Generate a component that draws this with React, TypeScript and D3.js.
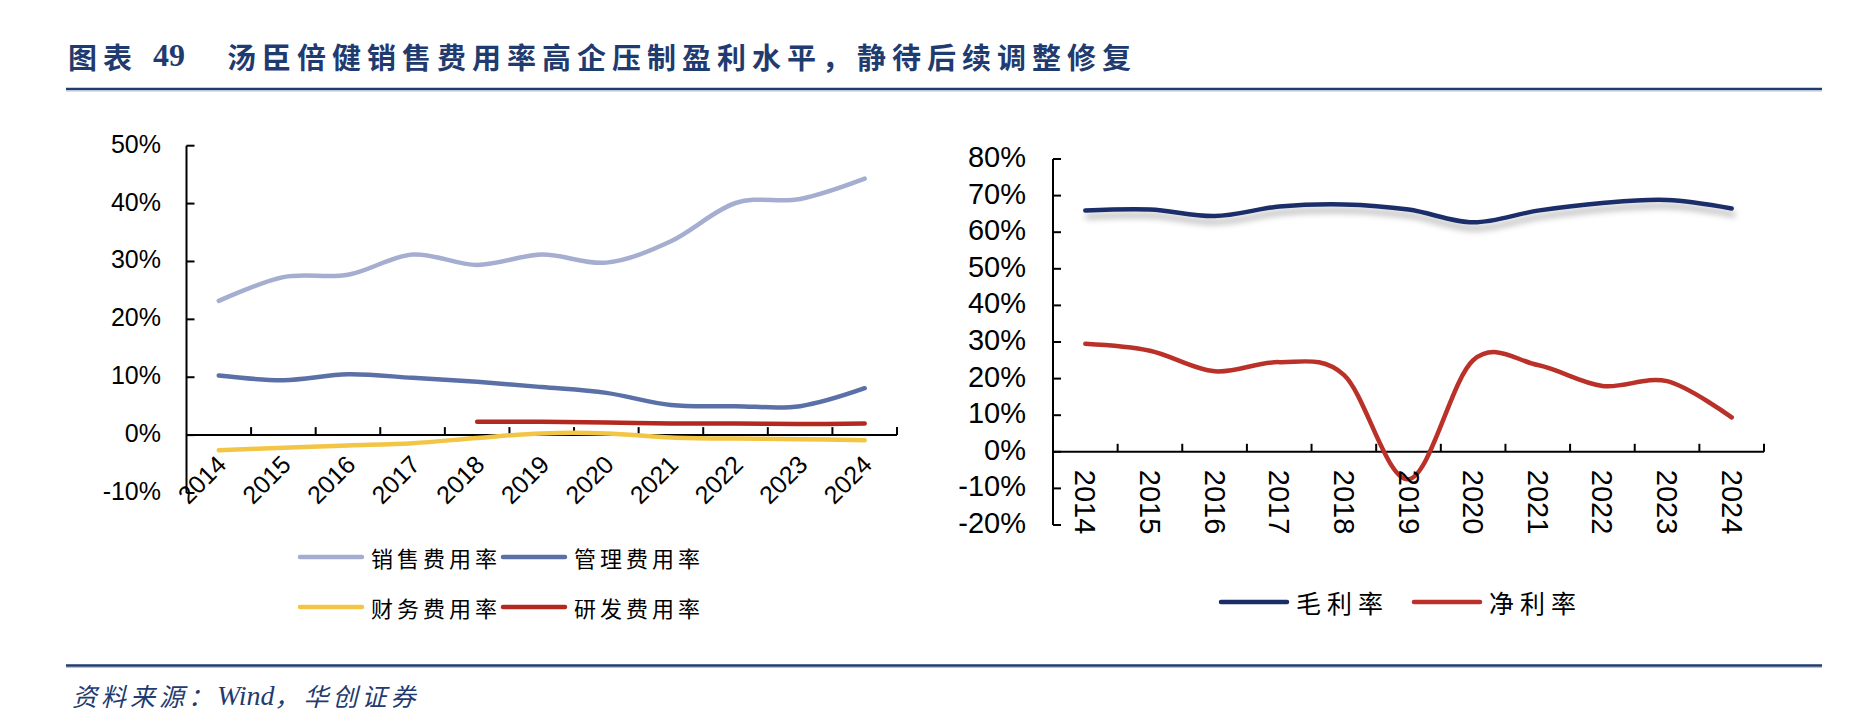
import React, { useRef, useEffect } from "react";
import * as d3 from "d3";

const years = ["2014", "2015", "2016", "2017", "2018", "2019", "2020", "2021", "2022", "2023", "2024"];

// left chart: expense ratios (%)
const sellingRate = [23.2, 27.3, 27.7, 31.2, 29.4, 31.2, 29.8, 33.5, 40.1, 40.8, 44.3];
const adminRate = [10.3, 9.5, 10.5, 9.9, 9.2, 8.3, 7.3, 5.2, 5.0, 5.0, 8.1];
const financeRate = [-2.6, -2.2, -1.8, -1.4, -0.5, 0.3, 0.3, -0.4, -0.6, -0.7, -0.9];
const rdRate = [null, null, null, null, 2.3, 2.3, 2.2, 2.0, 2.0, 1.9, 2.0];
const leftTicks = [-10, 0, 10, 20, 30, 40, 50];

// right chart: margins (%)
const grossMargin = [65.9, 66.2, 64.4, 67.0, 67.6, 66.2, 62.7, 65.9, 68.0, 68.8, 66.5];
const netMargin = [29.5, 27.6, 22.0, 24.5, 21.0, -7.5, 25.0, 23.7, 18.0, 19.3, 9.4];
const rightTicks = [-20, -10, 0, 10, 20, 30, 40, 50, 60, 70, 80];

const leftSeries = [
  { name: "销售费用率", values: sellingRate, color: "#a5aed0" },
  { name: "管理费用率", values: adminRate, color: "#5a70a7" },
  { name: "财务费用率", values: financeRate, color: "#f3c544" },
  { name: "研发费用率", values: rdRate, color: "#b3291f" },
];
const rightSeries = [
  { name: "毛利率", values: grossMargin, color: "#1b2d69", shadow: true },
  { name: "净利率", values: netMargin, color: "#b93128", shadow: false },
];

const W = 1876;
const H = 718;
const NAVY = "#1f3b6f";
const NUM_FONT = "'Liberation Sans', Arial, sans-serif";
const CJK_FONT = "'Noto Sans CJK SC', sans-serif";

const App = () => {
  const svgRef = useRef<SVGSVGElement>(null);

  useEffect(() => {
    const svg = d3.select(svgRef.current);
    svg.selectAll("*").remove();

    const defs = svg.append("defs");
    defs
      .append("filter")
      .attr("id", "lineShadow")
      .attr("x", "-5%")
      .attr("y", "-100%")
      .attr("width", "110%")
      .attr("height", "400%")
      .append("feDropShadow")
      .attr("dx", 2)
      .attr("dy", 6)
      .attr("stdDeviation", 3)
      .attr("flood-color", "#000")
      .attr("flood-opacity", 0.3);

    // title
    const title = svg.append("g").attr("fill", NAVY).attr("font-weight", 700);
    title
      .append("text")
      .attr("x", 68)
      .attr("y", 56)
      .attr("dominant-baseline", "central")
      .attr("font-family", CJK_FONT)
      .attr("font-size", 29)
      .attr("letter-spacing", 6)
      .text("图表");
    title
      .append("text")
      .attr("x", 153)
      .attr("y", 66)
      .attr("font-family", "'Liberation Serif', serif")
      .attr("font-size", 32)
      .text("49");
    title
      .append("text")
      .attr("x", 227)
      .attr("y", 56)
      .attr("dominant-baseline", "central")
      .attr("font-family", CJK_FONT)
      .attr("font-size", 29)
      .attr("letter-spacing", 6)
      .text("汤臣倍健销售费用率高企压制盈利水平，静待后续调整修复");

    // rules
    const rule = (y: number) => {
      svg.append("line").attr("x1", 66).attr("x2", 1822).attr("y1", y).attr("y2", y)
        .attr("stroke", NAVY).attr("stroke-width", 2.5);
      svg.append("line").attr("x1", 66).attr("x2", 1822).attr("y1", y + 2).attr("y2", y + 2)
        .attr("stroke", "#b4c2dc").attr("stroke-width", 1.2);
    };
    rule(89);
    rule(665.5);

    // source
    const src = svg
      .append("text")
      .attr("x", 72)
      .attr("y", 695)
      .attr("dominant-baseline", "central")
      .attr("fill", NAVY)
      .attr("font-style", "italic")
      .attr("font-size", 25)
      .attr("font-family", CJK_FONT);
    src.append("tspan").attr("letter-spacing", 4).text("资料来源：");
    src.append("tspan").attr("font-family", "'Liberation Serif', serif").attr("font-size", 28).attr("letter-spacing", 0).text("Wind");
    src.append("tspan").attr("letter-spacing", 4).text("，华创证券");

    const drawChart = (opts: {
      x0: number; x1: number; yTop: number; yBottom: number;
      domain: [number, number]; ticks: number[];
      labelRight: number; yFont: number; series: any[];
      xLabel: "diag" | "vert"; xFont: number;
    }) => {
      const x = d3.scaleBand().domain(years).range([opts.x0, opts.x1]);
      const y = d3.scaleLinear().domain(opts.domain).range([opts.yBottom, opts.yTop]);
      const g = svg.append("g");
      const cx = (i: number) => (x(years[i]) as number) + x.bandwidth() / 2;

      // y axis
      g.append("line").attr("x1", opts.x0).attr("x2", opts.x0)
        .attr("y1", y(opts.domain[1])).attr("y2", y(opts.domain[0]))
        .attr("stroke", "#000").attr("stroke-width", 2);
      g.selectAll(".ytick").data(opts.ticks).join("line")
        .attr("x1", opts.x0).attr("x2", opts.x0 + 8)
        .attr("y1", (d) => y(d)).attr("y2", (d) => y(d))
        .attr("stroke", "#000").attr("stroke-width", 2);
      g.selectAll(".ylab").data(opts.ticks).join("text")
        .attr("x", opts.labelRight).attr("y", (d) => y(d) - 2)
        .attr("text-anchor", "end").attr("dominant-baseline", "central")
        .attr("font-family", NUM_FONT).attr("font-size", opts.yFont).attr("fill", "#000")
        .text((d) => `${d}%`);

      // x axis at 0%
      const y0 = y(0);
      g.append("line").attr("x1", opts.x0).attr("x2", opts.x1).attr("y1", y0).attr("y2", y0)
        .attr("stroke", "#000").attr("stroke-width", 2);
      g.selectAll(".xtick").data(years).join("line")
        .attr("x1", (d) => (x(d) as number) + x.bandwidth()).attr("x2", (d) => (x(d) as number) + x.bandwidth())
        .attr("y1", y0).attr("y2", y0 - 8)
        .attr("stroke", "#000").attr("stroke-width", 2);

      // lines
      const line = d3
        .line<number | null>()
        .defined((d) => d != null)
        .x((d, i) => cx(i))
        .y((d) => y(d as number))
        .curve(d3.curveCardinal.tension(0));
      opts.series.forEach((s) => {
        g.append("path")
          .datum(s.values)
          .attr("fill", "none")
          .attr("stroke", s.color)
          .attr("stroke-width", 4.5)
          .attr("stroke-linecap", "round")
          .attr("stroke-linejoin", "round")
          .attr("filter", s.shadow ? "url(#lineShadow)" : null)
          .attr("d", line);
      });

      // x labels
      g.selectAll(".xlab").data(years).join("text")
        .attr("font-family", NUM_FONT).attr("font-size", opts.xFont).attr("fill", "#000")
        .attr("text-anchor", opts.xLabel === "diag" ? "end" : "start")
        .attr("dominant-baseline", opts.xLabel === "diag" ? "auto" : "central")
        .attr("transform", (d, i) =>
          opts.xLabel === "diag"
            ? `translate(${cx(i) + 9},${y0 + 31}) rotate(-45)`
            : `translate(${cx(i)},${y0 + 18}) rotate(90)`
        )
        .text((d) => d);
    };

    drawChart({
      x0: 186.5, x1: 897, yTop: 145.7, yBottom: 493,
      domain: [-10, 50], ticks: leftTicks, labelRight: 161, yFont: 25,
      series: leftSeries, xLabel: "diag", xFont: 25,
    });
    drawChart({
      x0: 1053, x1: 1764, yTop: 159, yBottom: 525,
      domain: [-20, 80], ticks: rightTicks, labelRight: 1026, yFont: 29,
      series: rightSeries, xLabel: "vert", xFont: 29,
    });

    // legends
    const legendItem = (lx: number, ly: number, tx: number, s: any, fs: number, ls: number) => {
      svg.append("line").attr("x1", lx).attr("x2", tx - 9).attr("y1", ly).attr("y2", ly)
        .attr("stroke", s.color).attr("stroke-width", 4.5).attr("stroke-linecap", "round");
      svg.append("text").attr("x", tx).attr("y", ly)
        .attr("dominant-baseline", "central")
        .attr("font-family", CJK_FONT).attr("font-size", fs).attr("letter-spacing", ls)
        .attr("fill", "#000")
        .text(s.name);
    };
    legendItem(300, 557, 371, leftSeries[0], 22, 4);
    legendItem(503, 557, 574, leftSeries[1], 22, 4);
    legendItem(300, 607, 371, leftSeries[2], 22, 4);
    legendItem(503, 607, 574, leftSeries[3], 22, 4);
    legendItem(1221, 602, 1296, rightSeries[0], 25, 6);
    legendItem(1414, 602, 1489, rightSeries[1], 25, 6);
  }, []);

  return (
    <svg
      ref={svgRef}
      width={W}
      height={H}
      style={{ position: "absolute", left: 0, top: 0, background: "#fff" }}
    />
  );
};

export default App;
